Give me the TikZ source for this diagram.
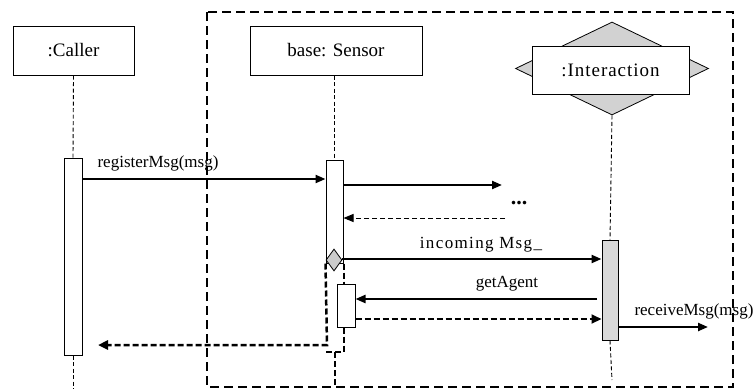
\documentclass[tikz,border=0pt]{standalone}
\usepackage{fontspec}
\setmainfont{Liberation Serif}
\usetikzlibrary{arrows.meta,shapes.geometric}
\tikzset{
  objbox/.style={draw, line width=1pt, fill=white, inner sep=0pt, minimum height=49pt, font=\fontsize{19}{21}\selectfont},
  actbar/.style={draw, line width=1pt, fill=white, inner sep=0pt},
  lifeline/.style={line width=0.9pt, dash pattern=on 4pt off 2.5pt},
  msgarrow/.style={line width=2.2pt, -{Triangle[length=10pt,width=8pt]}},
  retthin/.style={line width=1pt, dash pattern=on 5pt off 3pt, -{Triangle[length=10pt,width=8pt]}},
  retthick/.style={line width=2pt, dash pattern=on 6pt off 3pt, -{Triangle[length=10pt,width=9pt]}},
  msglabel/.style={inner sep=0pt, font=\fontsize{17}{19}\selectfont},
  frameline/.style={line width=2.5pt, dash pattern=on 9pt off 5pt},
}
\begin{document}
\begin{tikzpicture}[x=1pt,y=-1pt]
\useasboundingbox (0,0) rectangle (755,389);
\fill[white] (0,0) rectangle (755,389);

% frame
\draw[frameline] (207,12) rectangle (733,387);

% objects
\node[objbox, minimum width=121pt] (caller) at (73.5,50.5) {:Caller};
\node[objbox, minimum width=172pt] (sensor) at (336,50.5) {base: Sensor};
\node[diamond, draw, line width=0.8pt, fill=gray!35, inner sep=0pt, minimum width=193pt, minimum height=93pt] (idiam) at (612,68.5) {};
\node[objbox, minimum width=157pt, minimum height=48pt] (inter) at (610.5,70) {\addfontfeatures{LetterSpace=5}:Interaction};

% activation bars
\node[actbar, minimum width=18pt, minimum height=197pt] (callerbar) at (73,256.5) {};
\node[actbar, minimum width=17pt, minimum height=103pt] (sensorbar) at (334.5,211.5) {};
\node[actbar, minimum width=18pt, minimum height=43pt] (smallbar) at (346,305.5) {};
\node[actbar, fill=gray!30, minimum width=16pt, minimum height=100pt] (interbar) at (610,290) {};
\node[diamond, draw, line width=0.8pt, fill=gray!40, inner sep=0pt, minimum width=16pt, minimum height=22pt] (sdiam) at (334,260) {};

% lifelines
\coordinate (cend) at (73,389);
\coordinate (send) at (335,387);
\coordinate (iend) at (612,380);
\coordinate (sjoin) at (335,352);
\draw[lifeline] (caller.south) -- (callerbar.north);
\draw[lifeline] (callerbar.south) -- (cend);
\draw[lifeline] (sensor.south -| sensorbar.north) -- (sensorbar.north);
\draw[lifeline] (idiam.south) -- (interbar.north);
\draw[lifeline] (interbar.south) -- (iend);
\draw[line width=2pt, dash pattern=on 6pt off 3pt] (sjoin) -- (send);

% messages
\coordinate (y1) at (0,179);
\coordinate (y2) at (502,185);
\coordinate (y3) at (505,218);
\coordinate (y4) at (0,259);
\coordinate (y5) at (597,299);
\coordinate (y6) at (597,319);
\coordinate (y7) at (708,327);
\coordinate (y8) at (98,345);
\coordinate (c8) at (327,345);

\draw[msgarrow] (callerbar.east |- y1) -- (sensorbar.west |- y1);
\node[msglabel] (l1) at (158,163) {registerMsg(msg)};

\draw[msgarrow] (sensorbar.east |- y2) -- (y2);
\node[inner sep=0pt, font=\bfseries\fontsize{22}{22}\selectfont] (dots) at (519,203) {...};
\draw[retthin] (y3) -- (sensorbar.east |- y3);

\draw[msgarrow] (sdiam.east |- y4) -- (interbar.west |- y4);
\node[msglabel] (l4) at (481,245) {\addfontfeatures{LetterSpace=8}incoming Msg\_};

\draw[msgarrow] (y5) -- (smallbar.east |- y5);
\node[msglabel] (l5) at (507,284) {getAgent};

\draw[retthick] (smallbar.east |- y6) -- (interbar.west |- y6);

\draw[msgarrow] (interbar.east |- y7) -- (y7);
\node[msglabel] (l7) at (694,311) {receiveMsg(msg)};

% return to caller
\draw[retthick, line width=2.5pt] (sensorbar.south west) -- (c8) -- (y8);
\draw[line width=2pt, dash pattern=on 6pt off 3pt] (sensorbar.south east) -- (smallbar.north -| sensorbar.south east);
\draw[line width=2pt, dash pattern=on 6pt off 3pt] (smallbar.south -| sensorbar.south east) -- (sjoin -| sensorbar.south east) -- (sjoin -| sensorbar.south west);
\end{tikzpicture}
\end{document}
